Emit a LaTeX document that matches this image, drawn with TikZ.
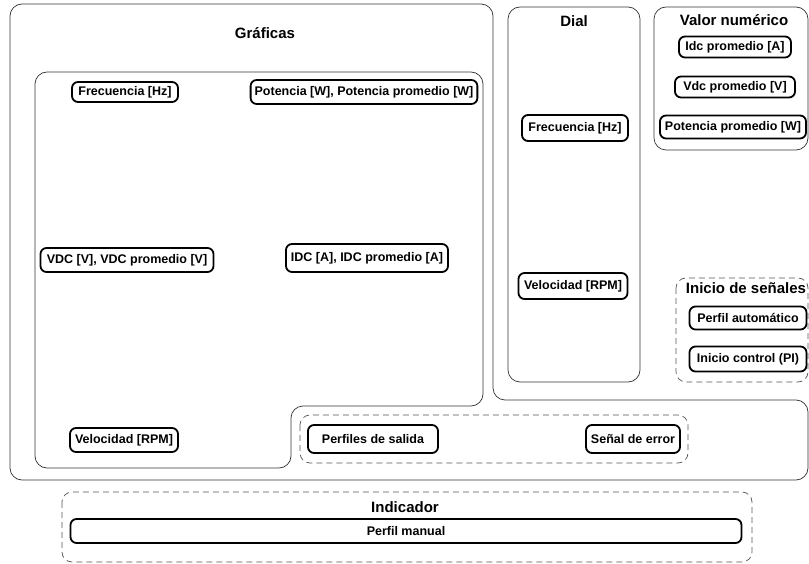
\documentclass[tikz,border=0pt]{standalone}
\usepackage{fontspec}
\setmainfont{Liberation Sans}
\usepackage{tikz}
\definecolor{gris_marco}{HTML}{333333}
\definecolor{gris_trazo}{HTML}{555555}

\begin{document}
\begin{tikzpicture}[x=1pt,y=-1pt,
    campo/.style={draw=black,line width=1.8pt,rounded corners=6pt,fill=white,
        font=\bfseries\fontsize{12.5}{14}\selectfont,inner xsep=4pt,inner ysep=2pt,minimum height=22pt},
    titulo/.style={font=\bfseries\fontsize{15}{17}\selectfont},
    marco/.style={draw=gris_marco,line width=0.7pt,rounded corners=12pt},
    grupo/.style={draw=gris_trazo,line width=0.7pt,rounded corners=10pt,dash pattern=on 6pt off 4pt}]

    \useasboundingbox (0,0) rectangle (809,564);

    % marcos
    \draw[marco] (10,4) -- (493,4) -- (493,400) -- (808,400) -- (808,480) -- (10,480) -- cycle;
    \draw[marco] (35,72) -- (483,72) -- (483,406) -- (291,406) -- (291,468) -- (35,468) -- cycle;
    \draw[marco] (508,7) rectangle (640,382);
    \draw[marco] (654,7) -- (808,7) -- (808,150) -- (654,150) -- cycle;
    \draw[grupo] (300,415) rectangle (688,463);
    \draw[grupo] (676,278) rectangle (808,382);
    \draw[grupo] (62,492) rectangle (752,562);

    % titulos
    \node[titulo] (t_graficas) at (265,33) {Gráficas};
    \node[titulo] (t_dial) at (574,21) {Dial};
    \node[titulo] (t_valor) at (734,20) {Valor numérico};
    \node[titulo] (t_inicio) at (746,288) {Inicio de señales};
    \node[titulo] (t_indicador) at (405,507) {Indicador};

    % graficas
    \node[campo,minimum width=106pt,minimum height=20pt] (graf_frec) at (125,92) {Frecuencia [Hz]};
    \node[campo,minimum width=226pt,minimum height=24pt] (graf_pot) at (364,92) {Potencia [W], Potencia promedio [W]};
    \node[campo,minimum width=173pt,minimum height=24pt] (graf_vdc) at (127,260) {VDC [V], VDC promedio [V]};
    \node[campo,minimum width=162pt,minimum height=28pt] (graf_idc) at (367,258) {IDC [A], IDC promedio [A]};
    \node[campo,minimum width=108pt,minimum height=24pt] (graf_vel) at (124,440) {Velocidad [RPM]};

    \node[campo,minimum width=130pt,minimum height=28pt] (graf_perfiles) at (373,439) {Perfiles de salida};
    \node[campo,minimum width=94pt,minimum height=28pt] (graf_error) at (633,439) {Señal de error};

    % dial
    \node[campo,minimum width=106pt,minimum height=26pt] (dial_frec) at (575,128) {Frecuencia [Hz]};
    \node[campo,minimum width=109pt,minimum height=26pt] (dial_vel) at (573,286) {Velocidad [RPM]};

    % valor numerico
    \node[campo,minimum width=112pt,minimum height=21pt] (valor_idc) at (735,47) {Idc promedio [A]};
    \node[campo,minimum width=120pt,minimum height=21pt] (valor_vdc) at (735,87) {Vdc promedio [V]};
    \node[campo,minimum width=146pt,minimum height=23pt] (valor_pot) at (733,127) {Potencia promedio [W]};

    % inicio de senales
    \node[campo,minimum width=117pt,minimum height=23pt] (inicio_auto) at (748,318) {Perfil automático};
    \node[campo,minimum width=117pt,minimum height=25pt] (inicio_pi) at (748,359) {Inicio control (PI)};

    % indicador
    \node[campo,minimum width=671pt,minimum height=24pt] (ind_manual) at (406,531) {Perfil manual};

\end{tikzpicture}
\end{document}
